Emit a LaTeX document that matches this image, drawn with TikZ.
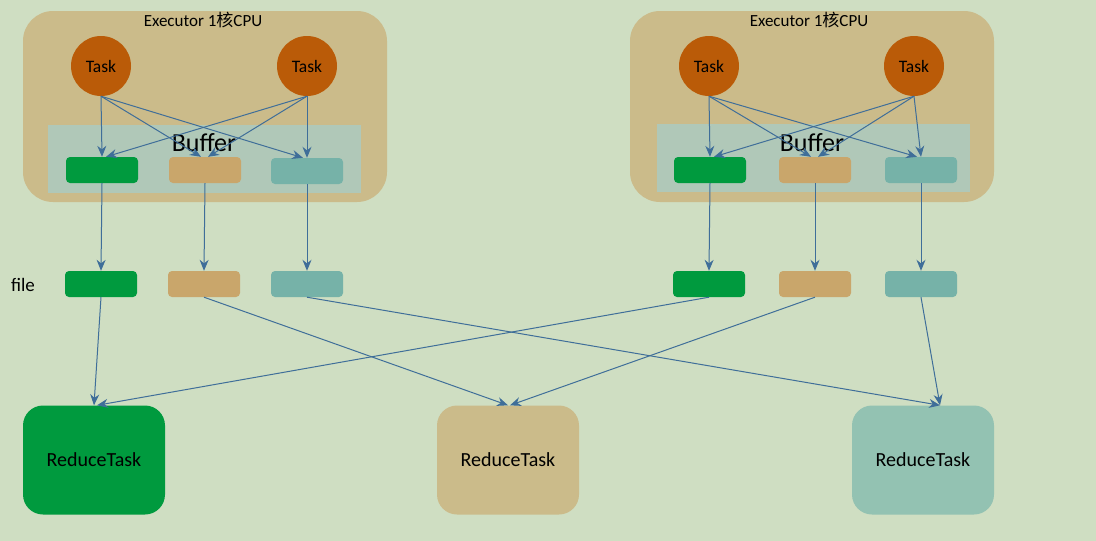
\documentclass[tikz,border=0pt]{standalone}
\usepackage{fontspec}
\setmainfont{Carlito}
\newfontfamily\cjk{Noto Sans CJK SC}
\usetikzlibrary{arrows.meta}
\definecolor{bgcol}{HTML}{CFDEC2}
\definecolor{execol}{HTML}{CBBB8A}
\definecolor{taskcol}{HTML}{BA5B08}
\definecolor{bufcol}{HTML}{B0C8B8}
\definecolor{grn}{HTML}{009A3E}
\definecolor{tan}{HTML}{C9A66B}
\definecolor{teal}{HTML}{76B2A8}
\definecolor{tealred}{HTML}{93C2B2}
\definecolor{arr}{HTML}{3F6E99}
\begin{document}
\begin{tikzpicture}[
  x=1pt, y=-1pt,
  exe/.style={fill=execol,rounded corners=30pt,minimum width=364pt,minimum height=191pt},
  buf/.style={fill=bufcol,minimum width=313pt,minimum height=68pt},
  task/.style={circle,fill=taskcol,minimum size=60pt,inner sep=0pt,font=\fontsize{17.5}{17.5}\selectfont},
  blk/.style={rounded corners=4pt,minimum width=72pt,minimum height=26pt,inner sep=0pt},
  red/.style={rounded corners=20pt,minimum width=142pt,minimum height=109pt,font=\fontsize{20}{20}\selectfont},
  link/.style={draw=arr,line width=1pt,-{Stealth[length=11pt,width=9pt]}}]
\fill[bgcol] (0,0) rectangle (1096,541);
\useasboundingbox (0,0) rectangle (1096,541);
% executors
\node[exe] (exeL) at (205,106.5) {};
\node[exe] (exeR) at (812,106.5) {};
\node[font=\fontsize{17}{17}\selectfont] at (203,20) {Executor 1{\cjk 核}CPU};
\node[font=\fontsize{17}{17}\selectfont] at (809,20) {Executor 1{\cjk 核}CPU};
\node[buf] (bufL) at (204.5,159) {};
\node[buf] (bufR) at (813,158) {};
\node[font=\fontsize{26}{26}\selectfont] at (204,143) {Buffer};
\node[font=\fontsize{26}{26}\selectfont] at (812,143) {Buffer};
\node[task] (tLa) at (101,66) {Task};
\node[task] (tLb) at (307,66) {Task};
\node[task] (tRa) at (709,66) {Task};
\node[task] (tRb) at (914,66) {Task};
% buffer blocks
\node[blk,fill=grn] (bLa) at (102,170) {};
\node[blk,fill=tan] (bLb) at (205,170) {};
\node[blk,fill=teal] (bLc) at (307,171) {};
\node[blk,fill=grn] (bRa) at (710,170) {};
\node[blk,fill=tan] (bRb) at (815,170) {};
\node[blk,fill=teal] (bRc) at (921,170) {};
% file blocks
\node[font=\fontsize{19}{19}\selectfont] at (23,285) {file};
\node[blk,fill=grn] (fLa) at (101,284) {};
\node[blk,fill=tan] (fLb) at (204,284) {};
\node[blk,fill=teal] (fLc) at (307,284) {};
\node[blk,fill=grn] (fRa) at (709,284) {};
\node[blk,fill=tan] (fRb) at (815,284) {};
\node[blk,fill=teal] (fRc) at (921,284) {};
% reduce tasks
\node[red,fill=grn] (rA) at (94,460) {ReduceTask};
\node[red,fill=execol] (rB) at (508,460) {ReduceTask};
\node[red,fill=tealred] (rC) at (923,460) {ReduceTask};
% task -> buffer
\draw[link] (tLa.south) -- (bLa.north);
\draw[link] (tLa.south) -- ([xshift=-4pt]bLb.north);
\draw[link] (tLa.south) -- ([xshift=-4pt]bLc.north);
\draw[link] (tLb.south) -- ([xshift=4pt]bLa.north);
\draw[link] (tLb.south) -- ([xshift=3pt]bLb.north);
\draw[link] (tLb.south) -- (bLc.north);
\draw[link] (tRa.south) -- (bRa.north);
\draw[link] (tRa.south) -- ([xshift=-4pt]bRb.north);
\draw[link] (tRa.south) -- ([xshift=-4pt]bRc.north);
\draw[link] (tRb.south) -- ([xshift=4pt]bRa.north);
\draw[link] (tRb.south) -- ([xshift=3pt]bRb.north);
\draw[link] (tRb.south) -- (bRc.north);
% buffer -> file
\draw[link] (bLa.south) -- (fLa.north);
\draw[link] (bLb.south) -- (fLb.north);
\draw[link] (bLc.south) -- (fLc.north);
\draw[link] (bRa.south) -- (fRa.north);
\draw[link] (bRb.south) -- (fRb.north);
\draw[link] (bRc.south) -- (fRc.north);
% file -> reduce
\draw[link] (fLa.south) -- (rA.north);
\draw[link] (fRa.south) -- ([xshift=3pt]rA.north);
\draw[link] (fLb.south) -- (rB.north);
\draw[link] (fRb.south) -- ([xshift=2pt]rB.north);
\draw[link] (fLc.south) -- ([xshift=17pt]rC.north);
\draw[link] (fRc.south) -- ([xshift=17pt]rC.north);
\end{tikzpicture}
\end{document}
